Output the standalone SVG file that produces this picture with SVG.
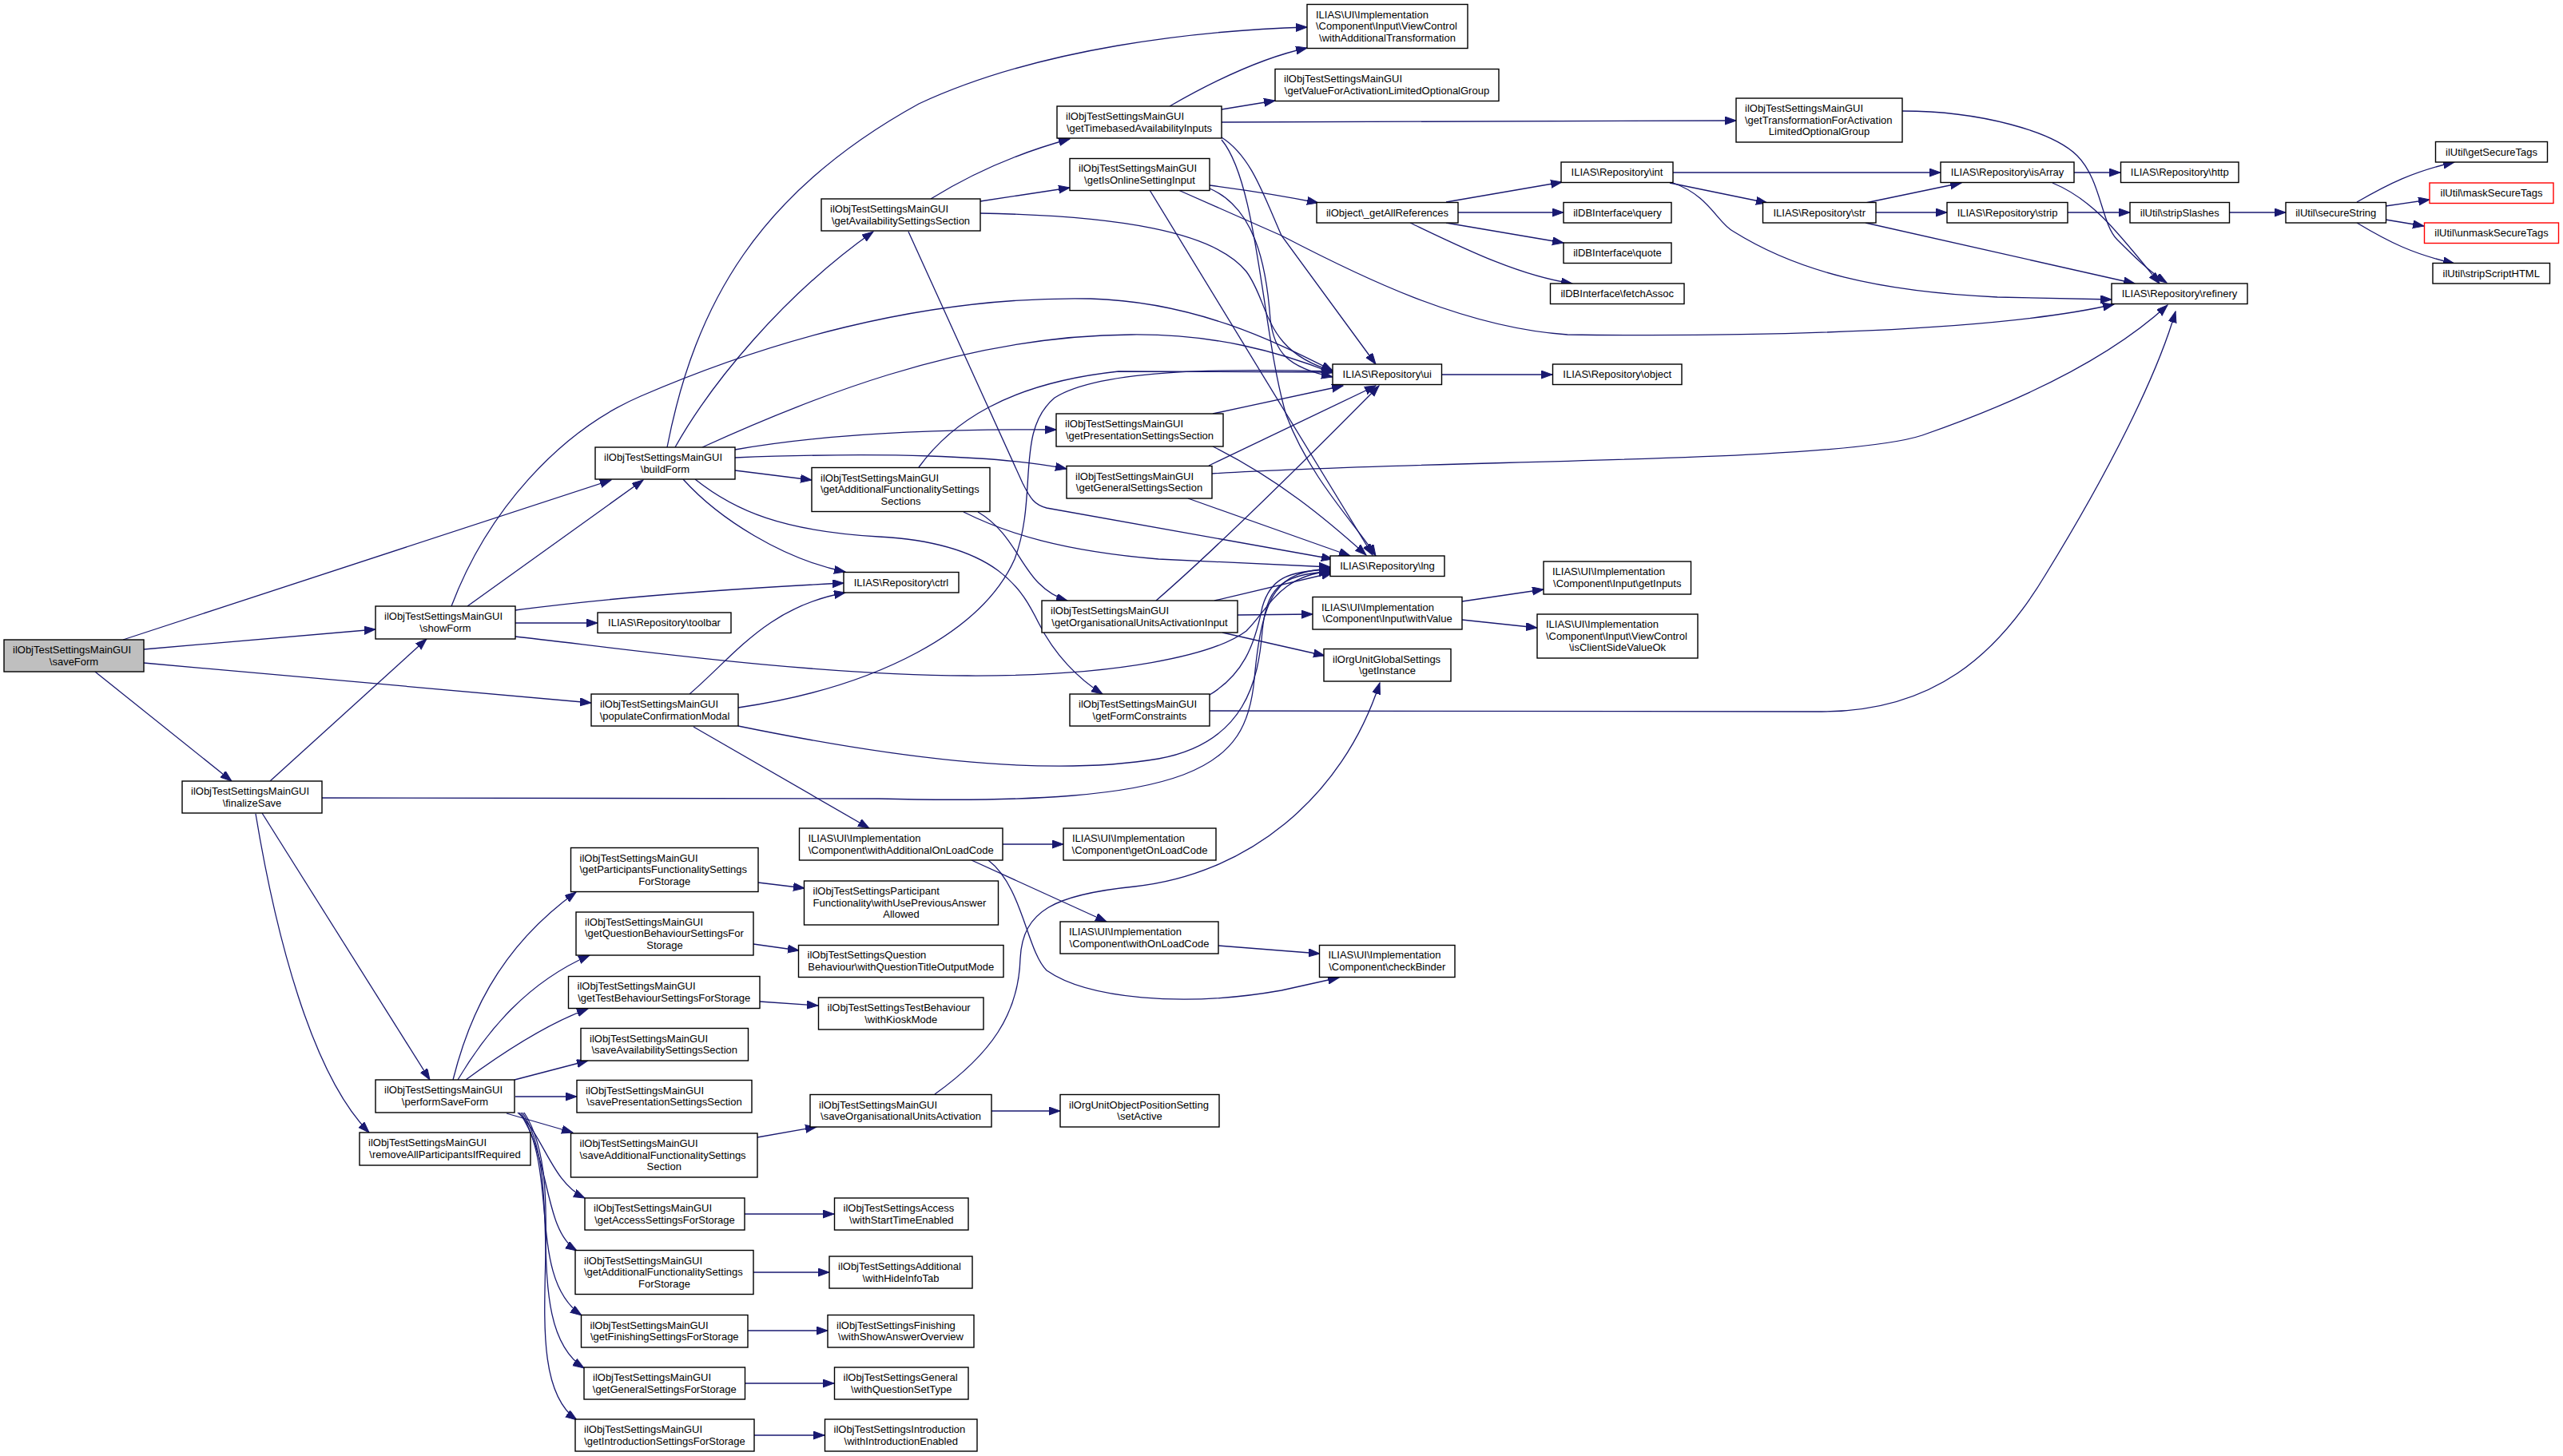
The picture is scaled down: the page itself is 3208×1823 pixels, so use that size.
<svg xmlns="http://www.w3.org/2000/svg" width="3208" height="1823" viewBox="0 0 3208 1823">
<style>
.n rect{fill:#fff;stroke:#000;stroke-width:1.4}
.root rect{fill:#bfbfbf}
.red rect{stroke:#ff0000}
text{font-family:"Liberation Sans",Arial,Helvetica,sans-serif;font-size:13px;fill:#000}
.m{text-anchor:middle}
#edges path{fill:none;stroke:#191970;stroke-width:1.3;marker-end:url(#arr)}
</style>
<defs>
<marker id="arr" markerUnits="userSpaceOnUse" markerWidth="15" markerHeight="11" refX="14" refY="5" orient="auto">
<path d="M0,0 L14,5 L0,10 z" fill="#191970" stroke="#191970" stroke-width="1"/>
</marker>
</defs>
<rect width="3208" height="1823" fill="#fff"/>
<g id="edges">
<path d="M154,801 L765,601"/>
<path d="M585,759 L805,601"/>
<path d="M180,813 L470,788"/>
<path d="M180,830 L740,880"/>
<path d="M119,841 L290,978"/>
<path d="M338,978 L534,800"/>
<path d="M328,1018 L538,1352"/>
<path d="M320,1019 C345,1170 390,1345 462,1418"/>
<path d="M403,999 L1100,1000 C1500,1010 1560,960 1570,850 C1580,740 1600,715 1665,712"/>
<path d="M565,759 C610,640 700,540 802,496 C950,432 1150,370 1365,374 C1500,378 1600,430 1668,464"/>
<path d="M645,764 C750,750 900,738 1056,730"/>
<path d="M645,780 L748,780"/>
<path d="M645,797 C750,808 1000,845 1211,846 C1400,847 1520,820 1560,790 C1590,760 1600,722 1665,715"/>
<path d="M835,560 C870,380 950,240 1150,130 C1300,60 1500,38 1636,34"/>
<path d="M845,560 C890,480 980,370 1093,290"/>
<path d="M879,560 C1000,505 1200,420 1416,419 C1520,418 1600,440 1668,467"/>
<path d="M920,563 C1050,540 1200,537 1322,538"/>
<path d="M920,573 C1100,566 1250,570 1335,587"/>
<path d="M920,589 L1016,601"/>
<path d="M855,600 C900,650 980,700 1058,716"/>
<path d="M870,600 C920,640 980,665 1100,672 C1250,680 1280,740 1300,780 C1320,820 1350,850 1380,869"/>
<path d="M1165,249 C1220,215 1280,190 1339,174"/>
<path d="M1227,252 L1339,235"/>
<path d="M1227,267 C1400,270 1520,290 1560,340 C1590,380 1580,440 1670,465"/>
<path d="M1137,290 L1280,605 C1290,625 1295,632 1310,636 L1668,700"/>
<path d="M1464,133 C1530,95 1590,70 1636,60"/>
<path d="M1529,137 L1596,126"/>
<path d="M1529,153 L2173,151"/>
<path d="M1529,172 C1565,195 1580,240 1604,295 L1722,456"/>
<path d="M1529,175 C1575,230 1580,420 1610,520 C1640,600 1700,660 1722,696"/>
<path d="M1514,232 C1560,238 1610,246 1650,254"/>
<path d="M1514,236 C1570,260 1585,330 1590,400 C1595,440 1610,460 1668,472"/>
<path d="M1475,238 L1604,295 C1700,345 1830,410 1962,419 C2200,422 2500,415 2646,381"/>
<path d="M1439,238 L1718,695"/>
<path d="M1518,518 L1681,483"/>
<path d="M1518,559 C1600,600 1660,650 1710,695"/>
<path d="M1513,583 L1722,483"/>
<path d="M1517,593 C1800,575 2300,580 2406,545 C2550,495 2650,440 2713,382"/>
<path d="M1487,624 L1690,696"/>
<path d="M1150,585 C1190,530 1260,480 1400,465 L1668,466"/>
<path d="M1206,641 C1260,668 1330,690 1450,700 L1665,710"/>
<path d="M1224,641 C1265,665 1275,705 1300,730 C1310,740 1322,748 1336,752"/>
<path d="M924,886 C1100,860 1230,790 1270,700 C1300,620 1270,540 1320,498 C1380,460 1550,462 1668,465"/>
<path d="M924,909 C1100,945 1300,975 1450,950 C1560,930 1575,850 1580,790 C1585,740 1600,718 1665,716"/>
<path d="M863,869 C920,820 960,760 1058,742"/>
<path d="M868,910 L1088,1037"/>
<path d="M1447,752 C1530,680 1650,560 1726,483"/>
<path d="M1520,752 L1668,717"/>
<path d="M1549,770 L1643,769"/>
<path d="M1530,792 L1658,821"/>
<path d="M1514,870 C1555,845 1570,810 1580,760 C1590,725 1610,715 1665,713"/>
<path d="M1514,890 L2280,891 C2420,891 2500,820 2560,720 C2640,590 2700,470 2723,390"/>
<path d="M1255,1057 L1331,1057"/>
<path d="M1216,1077 L1385,1154"/>
<path d="M1237,1077 C1280,1110 1285,1190 1310,1215 C1360,1250 1480,1262 1604,1240 L1676,1224"/>
<path d="M1525,1184 L1652,1194"/>
<path d="M1830,753 L1932,738"/>
<path d="M1830,776 L1924,786"/>
<path d="M1170,1370 C1240,1320 1275,1270 1277,1200 C1280,1140 1320,1120 1420,1110 C1560,1095 1680,1000 1727,855"/>
<path d="M1241,1391 L1327,1391"/>
<path d="M948,1424 L1022,1411"/>
<path d="M1810,253 L1955,228"/>
<path d="M1825,266 L1957,266"/>
<path d="M1810,279 L1957,304"/>
<path d="M1765,279 C1830,310 1900,345 1968,355"/>
<path d="M2094,216 L2429,216"/>
<path d="M2090,229 L2212,254"/>
<path d="M2094,229 C2140,245 2150,280 2170,290 C2250,340 2350,365 2500,372 L2643,375"/>
<path d="M2335,254 L2455,229"/>
<path d="M2348,266 L2437,266"/>
<path d="M2335,279 L2672,355"/>
<path d="M2596,216 L2654,216"/>
<path d="M2569,229 C2620,250 2650,290 2703,355"/>
<path d="M2381,139 C2480,139 2570,165 2600,195 C2630,225 2630,280 2650,300 C2670,320 2690,340 2712,354"/>
<path d="M2588,266 L2666,266"/>
<path d="M2790,266 L2861,266"/>
<path d="M2950,253 C2990,230 3020,215 3072,203"/>
<path d="M2986,258 L3041,250"/>
<path d="M2986,275 L3034,283"/>
<path d="M2950,279 C2990,303 3020,318 3072,330"/>
<path d="M1804,469 L1943,469"/>
<path d="M567,1352 C585,1280 620,1190 721,1117"/>
<path d="M573,1352 C610,1290 660,1230 738,1196"/>
<path d="M583,1352 C640,1310 690,1280 736,1263"/>
<path d="M644,1352 L736,1328"/>
<path d="M645,1373 L722,1373"/>
<path d="M634,1394 L717,1418"/>
<path d="M648,1393 C680,1420 690,1480 732,1500"/>
<path d="M650,1393 C690,1450 680,1540 722,1566"/>
<path d="M652,1393 C700,1470 660,1600 728,1647"/>
<path d="M654,1393 C710,1480 650,1660 731,1713"/>
<path d="M656,1393 C720,1490 640,1720 722,1778"/>
<path d="M949,1105 L1007,1112"/>
<path d="M943,1182 L1000,1190"/>
<path d="M951,1254 L1024,1259"/>
<path d="M932,1520 L1044,1520"/>
<path d="M943,1593 L1038,1593"/>
<path d="M936,1666 L1036,1666"/>
<path d="M932,1732 L1044,1732"/>
<path d="M944,1797 L1032,1797"/>
</g>
<g id="saveForm" class="n root"><rect x="5" y="801" width="175" height="40"/><text x="16" y="817.9">ilObjTestSettingsMainGUI</text><text class="m" x="92.5" y="832.5">\saveForm</text></g>
<g id="buildForm" class="n"><rect x="745" y="560" width="175" height="40"/><text x="756" y="576.9">ilObjTestSettingsMainGUI</text><text class="m" x="832.5" y="591.5">\buildForm</text></g>
<g id="showForm" class="n"><rect x="470" y="759" width="175" height="41"/><text x="481" y="776.4">ilObjTestSettingsMainGUI</text><text class="m" x="557.5" y="791">\showForm</text></g>
<g id="toolbar" class="n"><rect x="748" y="767" width="167" height="25.5"/><text class="m" x="831.5" y="784.25">ILIAS\Repository\toolbar</text></g>
<g id="populateConfirmationModal" class="n"><rect x="740" y="869" width="184" height="40"/><text x="751" y="885.9">ilObjTestSettingsMainGUI</text><text class="m" x="832" y="900.5">\populateConfirmationModal</text></g>
<g id="finalizeSave" class="n"><rect x="228" y="978" width="175" height="40"/><text x="239" y="994.9">ilObjTestSettingsMainGUI</text><text class="m" x="315.5" y="1009.5">\finalizeSave</text></g>
<g id="performSaveForm" class="n"><rect x="470" y="1352" width="174" height="41"/><text x="481" y="1369.4">ilObjTestSettingsMainGUI</text><text class="m" x="557" y="1384">\performSaveForm</text></g>
<g id="removeAllParticipantsIfRequired" class="n"><rect x="450" y="1418" width="214" height="41"/><text x="461" y="1435.4">ilObjTestSettingsMainGUI</text><text class="m" x="557" y="1450">\removeAllParticipantsIfRequired</text></g>
<g id="getAvailabilitySettingsSection" class="n"><rect x="1028" y="249" width="199" height="40"/><text x="1039" y="265.9">ilObjTestSettingsMainGUI</text><text class="m" x="1127.5" y="280.5">\getAvailabilitySettingsSection</text></g>
<g id="getTimebasedAvailabilityInputs" class="n"><rect x="1323" y="133" width="206" height="40"/><text x="1334" y="149.9">ilObjTestSettingsMainGUI</text><text class="m" x="1426" y="164.5">\getTimebasedAvailabilityInputs</text></g>
<g id="getIsOnlineSettingInput" class="n"><rect x="1339" y="198.5" width="175" height="40"/><text x="1350" y="215.4">ilObjTestSettingsMainGUI</text><text class="m" x="1426.5" y="230">\getIsOnlineSettingInput</text></g>
<g id="withAdditionalTransformation" class="n"><rect x="1636" y="5.5" width="201" height="55"/><text x="1647" y="22.6">ILIAS\UI\Implementation</text><text x="1647" y="37.2">\Component\Input\ViewControl</text><text class="m" x="1736.5" y="51.8">\withAdditionalTransformation</text></g>
<g id="getValueForActivationLimitedOptionalGroup" class="n"><rect x="1596" y="86.5" width="280" height="40"/><text x="1607" y="103.4">ilObjTestSettingsMainGUI</text><text class="m" x="1736" y="118">\getValueForActivationLimitedOptionalGroup</text></g>
<g id="getTransformationForActivationLimitedOptionalGroup" class="n"><rect x="2173" y="123" width="208" height="55"/><text x="2184" y="140.1">ilObjTestSettingsMainGUI</text><text x="2184" y="154.7">\getTransformationForActivation</text><text class="m" x="2277" y="169.3">LimitedOptionalGroup</text></g>
<g id="getPresentationSettingsSection" class="n"><rect x="1322" y="518" width="209" height="41"/><text x="1333" y="535.4">ilObjTestSettingsMainGUI</text><text class="m" x="1426.5" y="550">\getPresentationSettingsSection</text></g>
<g id="getAdditionalFunctionalitySettingsSections" class="n"><rect x="1016" y="585.5" width="223" height="55"/><text x="1027" y="602.6">ilObjTestSettingsMainGUI</text><text x="1027" y="617.2">\getAdditionalFunctionalitySettings</text><text class="m" x="1127.5" y="631.8">Sections</text></g>
<g id="getGeneralSettingsSection" class="n"><rect x="1335" y="583.5" width="182" height="40.5"/><text x="1346" y="600.65">ilObjTestSettingsMainGUI</text><text class="m" x="1426" y="615.25">\getGeneralSettingsSection</text></g>
<g id="ctrl" class="n"><rect x="1056" y="716.5" width="144" height="25.5"/><text class="m" x="1128" y="733.75">ILIAS\Repository\ctrl</text></g>
<g id="getOrganisationalUnitsActivationInput" class="n"><rect x="1304" y="752" width="245" height="40"/><text x="1315" y="768.9">ilObjTestSettingsMainGUI</text><text class="m" x="1426.5" y="783.5">\getOrganisationalUnitsActivationInput</text></g>
<g id="getFormConstraints" class="n"><rect x="1339" y="869" width="175" height="40"/><text x="1350" y="885.9">ilObjTestSettingsMainGUI</text><text class="m" x="1426.5" y="900.5">\getFormConstraints</text></g>
<g id="withAdditionalOnLoadCode" class="n"><rect x="1000.5" y="1037" width="254.5" height="40"/><text x="1011.5" y="1053.9">ILIAS\UI\Implementation</text><text class="m" x="1127.75" y="1068.5">\Component\withAdditionalOnLoadCode</text></g>
<g id="getOnLoadCode" class="n"><rect x="1331" y="1037" width="191" height="40"/><text x="1342" y="1053.9">ILIAS\UI\Implementation</text><text class="m" x="1426.5" y="1068.5">\Component\getOnLoadCode</text></g>
<g id="withOnLoadCode" class="n"><rect x="1327" y="1154" width="198" height="40"/><text x="1338" y="1170.9">ILIAS\UI\Implementation</text><text class="m" x="1426" y="1185.5">\Component\withOnLoadCode</text></g>
<g id="checkBinder" class="n"><rect x="1651.5" y="1183.5" width="169.5" height="40"/><text x="1662.5" y="1200.4">ILIAS\UI\Implementation</text><text class="m" x="1736.25" y="1215">\Component\checkBinder</text></g>
<g id="getAllReferences" class="n"><rect x="1648" y="253.5" width="177" height="25.5"/><text class="m" x="1736.5" y="270.75">ilObject\_getAllReferences</text></g>
<g id="int" class="n"><rect x="1954" y="203" width="140" height="25.5"/><text class="m" x="2024" y="220.25">ILIAS\Repository\int</text></g>
<g id="query" class="n"><rect x="1957" y="253.5" width="135" height="25.5"/><text class="m" x="2024.5" y="270.75">ilDBInterface\query</text></g>
<g id="quote" class="n"><rect x="1957" y="304" width="135" height="25.5"/><text class="m" x="2024.5" y="321.25">ilDBInterface\quote</text></g>
<g id="fetchAssoc" class="n"><rect x="1940.5" y="355" width="167.5" height="25.5"/><text class="m" x="2024.25" y="372.25">ilDBInterface\fetchAssoc</text></g>
<g id="str" class="n"><rect x="2206.5" y="253.5" width="141.5" height="25.5"/><text class="m" x="2277.25" y="270.75">ILIAS\Repository\str</text></g>
<g id="isArray" class="n"><rect x="2429" y="203" width="167" height="25.5"/><text class="m" x="2512.5" y="220.25">ILIAS\Repository\isArray</text></g>
<g id="http" class="n"><rect x="2654.5" y="203" width="147.5" height="25.5"/><text class="m" x="2728.25" y="220.25">ILIAS\Repository\http</text></g>
<g id="strip" class="n"><rect x="2437" y="253.5" width="151" height="25.5"/><text class="m" x="2512.5" y="270.75">ILIAS\Repository\strip</text></g>
<g id="stripSlashes" class="n"><rect x="2666" y="253.5" width="124.5" height="25.5"/><text class="m" x="2728.25" y="270.75">ilUtil\stripSlashes</text></g>
<g id="secureString" class="n"><rect x="2861" y="253.5" width="125.5" height="25.5"/><text class="m" x="2923.75" y="270.75">ilUtil\secureString</text></g>
<g id="getSecureTags" class="n"><rect x="3048.5" y="177.5" width="140" height="25.5"/><text class="m" x="3118.5" y="194.75">ilUtil\getSecureTags</text></g>
<g id="maskSecureTags" class="n red"><rect x="3041" y="229" width="155" height="25.5"/><text class="m" x="3118.5" y="246.25">ilUtil\maskSecureTags</text></g>
<g id="unmaskSecureTags" class="n red"><rect x="3034.5" y="279" width="168" height="25.5"/><text class="m" x="3118.5" y="296.25">ilUtil\unmaskSecureTags</text></g>
<g id="stripScriptHTML" class="n"><rect x="3045" y="329.5" width="146.5" height="25.5"/><text class="m" x="3118.25" y="346.75">ilUtil\stripScriptHTML</text></g>
<g id="refinery" class="n"><rect x="2643" y="355" width="170" height="25.5"/><text class="m" x="2728" y="372.25">ILIAS\Repository\refinery</text></g>
<g id="ui" class="n"><rect x="1668" y="456" width="136.5" height="25.5"/><text class="m" x="1736.25" y="473.25">ILIAS\Repository\ui</text></g>
<g id="object" class="n"><rect x="1943.5" y="456" width="161.5" height="25.5"/><text class="m" x="2024.25" y="473.25">ILIAS\Repository\object</text></g>
<g id="lng" class="n"><rect x="1665" y="696" width="143" height="25.5"/><text class="m" x="1736.5" y="713.25">ILIAS\Repository\lng</text></g>
<g id="withValue" class="n"><rect x="1643" y="747.5" width="187" height="40.5"/><text x="1654" y="764.65">ILIAS\UI\Implementation</text><text class="m" x="1736.5" y="779.25">\Component\Input\withValue</text></g>
<g id="getInputs" class="n"><rect x="1932" y="703" width="184.5" height="41"/><text x="1943" y="720.4">ILIAS\UI\Implementation</text><text class="m" x="2024.25" y="735">\Component\Input\getInputs</text></g>
<g id="isClientSideValueOk" class="n"><rect x="1924" y="769" width="201" height="55"/><text x="1935" y="786.1">ILIAS\UI\Implementation</text><text x="1935" y="800.7">\Component\Input\ViewControl</text><text class="m" x="2024.5" y="815.3">\isClientSideValueOk</text></g>
<g id="getInstance" class="n"><rect x="1657" y="812.5" width="159" height="40.5"/><text x="1668" y="829.65">ilOrgUnitGlobalSettings</text><text class="m" x="1736.5" y="844.25">\getInstance</text></g>
<g id="getParticipantsFunctionalitySettingsForStorage" class="n"><rect x="714.5" y="1061.5" width="234.5" height="55"/><text x="725.5" y="1078.6">ilObjTestSettingsMainGUI</text><text x="725.5" y="1093.2">\getParticipantsFunctionalitySettings</text><text class="m" x="831.75" y="1107.8">ForStorage</text></g>
<g id="withUsePreviousAnswerAllowed" class="n"><rect x="1006.5" y="1103" width="243" height="55"/><text x="1017.5" y="1120.1">ilObjTestSettingsParticipant</text><text x="1017.5" y="1134.7">Functionality\withUsePreviousAnswer</text><text class="m" x="1128" y="1149.3">Allowed</text></g>
<g id="getQuestionBehaviourSettingsForStorage" class="n"><rect x="721" y="1142" width="222" height="54"/><text x="732" y="1158.6">ilObjTestSettingsMainGUI</text><text x="732" y="1173.2">\getQuestionBehaviourSettingsFor</text><text class="m" x="832" y="1187.8">Storage</text></g>
<g id="withQuestionTitleOutputMode" class="n"><rect x="999.5" y="1183.5" width="256.5" height="40"/><text x="1010.5" y="1200.4">ilObjTestSettingsQuestion</text><text class="m" x="1127.75" y="1215">Behaviour\withQuestionTitleOutputMode</text></g>
<g id="getTestBehaviourSettingsForStorage" class="n"><rect x="711.5" y="1222.5" width="239.5" height="40"/><text x="722.5" y="1239.4">ilObjTestSettingsMainGUI</text><text class="m" x="831.25" y="1254">\getTestBehaviourSettingsForStorage</text></g>
<g id="withKioskMode" class="n"><rect x="1024.5" y="1249" width="206.5" height="40"/><text x="1035.5" y="1265.9">ilObjTestSettingsTestBehaviour</text><text class="m" x="1127.75" y="1280.5">\withKioskMode</text></g>
<g id="saveAvailabilitySettingsSection" class="n"><rect x="727" y="1287.5" width="209.5" height="40.5"/><text x="738" y="1304.65">ilObjTestSettingsMainGUI</text><text class="m" x="831.75" y="1319.25">\saveAvailabilitySettingsSection</text></g>
<g id="savePresentationSettingsSection" class="n"><rect x="722" y="1352.5" width="219" height="40.5"/><text x="733" y="1369.65">ilObjTestSettingsMainGUI</text><text class="m" x="831.5" y="1384.25">\savePresentationSettingsSection</text></g>
<g id="saveAdditionalFunctionalitySettingsSection" class="n"><rect x="714.5" y="1419" width="233.5" height="55"/><text x="725.5" y="1436.1">ilObjTestSettingsMainGUI</text><text x="725.5" y="1450.7">\saveAdditionalFunctionalitySettings</text><text class="m" x="831.25" y="1465.3">Section</text></g>
<g id="saveOrganisationalUnitsActivation" class="n"><rect x="1014" y="1370.5" width="227" height="40.5"/><text x="1025" y="1387.65">ilObjTestSettingsMainGUI</text><text class="m" x="1127.5" y="1402.25">\saveOrganisationalUnitsActivation</text></g>
<g id="setActive" class="n"><rect x="1327" y="1370.5" width="199" height="40.5"/><text x="1338" y="1387.65">ilOrgUnitObjectPositionSetting</text><text class="m" x="1426.5" y="1402.25">\setActive</text></g>
<g id="getAccessSettingsForStorage" class="n"><rect x="732" y="1500" width="200" height="40"/><text x="743" y="1516.9">ilObjTestSettingsMainGUI</text><text class="m" x="832" y="1531.5">\getAccessSettingsForStorage</text></g>
<g id="withStartTimeEnabled" class="n"><rect x="1044.5" y="1500" width="167.5" height="40"/><text x="1055.5" y="1516.9">ilObjTestSettingsAccess</text><text class="m" x="1128.25" y="1531.5">\withStartTimeEnabled</text></g>
<g id="getAdditionalFunctionalitySettingsForStorage" class="n"><rect x="720" y="1565.5" width="223" height="55"/><text x="731" y="1582.6">ilObjTestSettingsMainGUI</text><text x="731" y="1597.2">\getAdditionalFunctionalitySettings</text><text class="m" x="831.5" y="1611.8">ForStorage</text></g>
<g id="withHideInfoTab" class="n"><rect x="1038" y="1573" width="179" height="40"/><text x="1049" y="1589.9">ilObjTestSettingsAdditional</text><text class="m" x="1127.5" y="1604.5">\withHideInfoTab</text></g>
<g id="getFinishingSettingsForStorage" class="n"><rect x="727.5" y="1646.5" width="208.5" height="40.5"/><text x="738.5" y="1663.65">ilObjTestSettingsMainGUI</text><text class="m" x="831.75" y="1678.25">\getFinishingSettingsForStorage</text></g>
<g id="withShowAnswerOverview" class="n"><rect x="1036" y="1646.5" width="183" height="40.5"/><text x="1047" y="1663.65">ilObjTestSettingsFinishing</text><text class="m" x="1127.5" y="1678.25">\withShowAnswerOverview</text></g>
<g id="getGeneralSettingsForStorage" class="n"><rect x="731" y="1712" width="201.5" height="40"/><text x="742" y="1728.9">ilObjTestSettingsMainGUI</text><text class="m" x="831.75" y="1743.5">\getGeneralSettingsForStorage</text></g>
<g id="withQuestionSetType" class="n"><rect x="1044.5" y="1712" width="167.5" height="40"/><text x="1055.5" y="1728.9">ilObjTestSettingsGeneral</text><text class="m" x="1128.25" y="1743.5">\withQuestionSetType</text></g>
<g id="getIntroductionSettingsForStorage" class="n"><rect x="720" y="1777" width="224" height="40"/><text x="731" y="1793.9">ilObjTestSettingsMainGUI</text><text class="m" x="832" y="1808.5">\getIntroductionSettingsForStorage</text></g>
<g id="withIntroductionEnabled" class="n"><rect x="1032.5" y="1777" width="190.5" height="40"/><text x="1043.5" y="1793.9">ilObjTestSettingsIntroduction</text><text class="m" x="1127.75" y="1808.5">\withIntroductionEnabled</text></g>
</svg>
